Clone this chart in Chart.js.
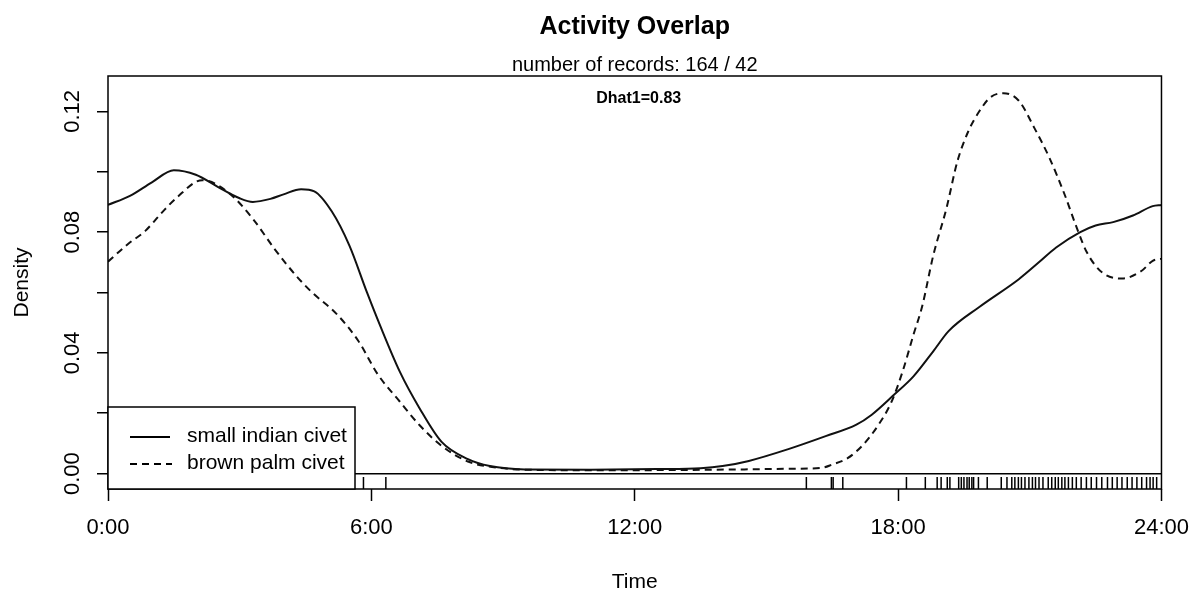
<!DOCTYPE html>
<html>
<head>
<meta charset="utf-8">
<script src="https://cdn.jsdelivr.net/npm/chart.js@4.4.1/dist/chart.umd.min.js"></script>
<style>
  html, body { margin: 0; padding: 0; background: #fff; }
</style>
</head>
<body>
<canvas id="overlap-chart" width="1203" height="592"></canvas>
<script>
var FONT = '"Liberation Sans", Arial, sans-serif';

// kernel density, small indian civet (solid)
var civetHours   = [0, 0.5, 1.0, 1.5, 2.0, 2.5, 3.0, 3.3, 3.7, 4.0, 4.4, 4.7, 5.1, 5.5, 5.9, 6.2, 6.65, 7.1, 7.6, 8.2, 8.7, 9.5, 11, 12.5, 13.5, 14.0, 14.6, 15.5, 16.35, 17.05, 17.4, 17.9, 18.35, 18.8, 19.15, 19.85, 20.75, 21.2, 21.6, 22.15, 22.5, 22.9, 23.35, 23.8, 24];
var civetDensity = [0.0890, 0.0920, 0.0965, 0.1005, 0.0990, 0.0950, 0.0912, 0.0900, 0.0910, 0.0925, 0.0942, 0.0935, 0.0868, 0.0755, 0.0600, 0.0490, 0.0337, 0.0216, 0.0105, 0.0048, 0.0025, 0.0014, 0.0013, 0.0015, 0.0018, 0.0025, 0.0042, 0.0081, 0.0124, 0.0162, 0.0195, 0.0260, 0.0322, 0.0405, 0.0472, 0.0552, 0.0644, 0.0699, 0.0749, 0.0800, 0.0822, 0.0833, 0.0855, 0.0886, 0.0890];

// kernel density, brown palm civet (dashed)
var palmHours   = [0, 0.45, 0.85, 1.2, 1.55, 2.15, 2.75, 3.3, 3.8, 4.3, 4.65, 5.2, 5.7, 6.15, 6.65, 7.1, 7.6, 8.2, 8.75, 9.5, 11, 13, 14.5, 15.5, 16.25, 16.5, 16.85, 17.2, 17.55, 17.85, 18.1, 18.35, 18.55, 18.8, 19.1, 19.35, 19.6, 19.85, 20.1, 20.4, 20.75, 21.1, 21.45, 21.8, 22.05, 22.3, 22.65, 23.1, 23.55, 23.8, 24];
var palmDensity = [0.0702, 0.0760, 0.0804, 0.0860, 0.0912, 0.0972, 0.0930, 0.0844, 0.0743, 0.0653, 0.0600, 0.0530, 0.0440, 0.0328, 0.0238, 0.0160, 0.0092, 0.0040, 0.0022, 0.0013, 0.0011, 0.0012, 0.0014, 0.0016, 0.0019, 0.0030, 0.0051, 0.0095, 0.0161, 0.0238, 0.0337, 0.0460, 0.0555, 0.0722, 0.0878, 0.1034, 0.1134, 0.1200, 0.1246, 0.1260, 0.1235, 0.1146, 0.1045, 0.0922, 0.0822, 0.0733, 0.0666, 0.0646, 0.0672, 0.0705, 0.0712];

// record times shown in the rug (hours)
var rugHours = [5.55, 5.58, 5.82, 6.33, 15.91, 16.48, 16.52, 16.74, 18.19, 18.62, 18.89, 18.98, 19.12, 19.18, 19.38, 19.44, 19.50, 19.57, 19.62, 19.68, 19.72, 19.83, 20.03, 20.35, 20.48, 20.59, 20.66, 20.74, 20.81, 20.89, 20.98, 21.06, 21.13, 21.21, 21.30, 21.42, 21.50, 21.58, 21.65, 21.73, 21.80, 21.88, 21.97, 22.06, 22.17, 22.29, 22.40, 22.52, 22.64, 22.77, 22.88, 22.99, 23.10, 23.22, 23.33, 23.44, 23.55, 23.66, 23.74, 23.81, 23.89];

var seriesNames = ['small indian civet', 'brown palm civet'];
var xTicks = [0, 6, 12, 18, 24];
var xTickLabels = ['0:00', '6:00', '12:00', '18:00', '24:00'];
var yTicks = [0, 0.02, 0.04, 0.06, 0.08, 0.10, 0.12];
var yLabelValues = [0, 0.04, 0.08, 0.12];
var yLabels = ['0.00', '0.04', '0.08', '0.12'];
var dhatText = 'Dhat1=0.83';

function pts(xs, ys) {
    return xs.map(function (x, i) { return { x: x, y: ys[i] }; });
}

// R style extras: box, rotated y labels, Dhat text, legend
var rPlot = {
    id: 'rPlot',
    afterDraw: function (chart) {
        var ctx = chart.ctx, ca = chart.chartArea, ys = chart.scales.y;
        ctx.save();
        ctx.strokeStyle = '#000';
        ctx.lineWidth = 1.5;
        ctx.setLineDash([]);
        ctx.strokeRect(ca.left, ca.top, ca.right - ca.left, ca.bottom - ca.top);

        ctx.fillStyle = '#000';
        ctx.font = '22px ' + FONT;
        ctx.textAlign = 'center';
        ctx.textBaseline = 'middle';
        yLabelValues.forEach(function (v, i) {
            ctx.save();
            ctx.translate(73, ys.getPixelForValue(v));
            ctx.rotate(-Math.PI / 2);
            ctx.fillText(yLabels[i], 0, 0);
            ctx.restore();
        });

        ctx.font = 'bold 16px ' + FONT;
        ctx.fillText(dhatText, (ca.left + ca.right) / 2 + 4, ca.top + 23);

        // legend, bottom left
        var lx = ca.left, ly = ca.bottom - 82, lw = 355 - ca.left, lh = 82;
        ctx.fillStyle = '#fff';
        ctx.fillRect(lx, ly, lw, lh);
        ctx.strokeRect(lx, ly, lw, lh);
        ctx.lineWidth = 2;
        ctx.beginPath();
        ctx.moveTo(lx + 22, ly + 30); ctx.lineTo(lx + 62, ly + 30);
        ctx.stroke();
        ctx.setLineDash([7, 5]);
        ctx.beginPath();
        ctx.moveTo(lx + 22, ly + 57); ctx.lineTo(lx + 64, ly + 57);
        ctx.stroke();
        ctx.setLineDash([]);
        ctx.fillStyle = '#000';
        ctx.font = '21px ' + FONT;
        ctx.textAlign = 'left';
        ctx.fillText(seriesNames[0], lx + 79, ly + 29);
        ctx.fillText(seriesNames[1], lx + 79, ly + 56);
        ctx.restore();
    }
};

var ctx = document.getElementById('overlap-chart');

var myChart = new Chart(ctx, {
    type: 'scatter',
    data: {
        datasets: [
            {
                label: seriesNames[0],
                data: pts(civetHours, civetDensity),
                showLine: true,
                borderColor: '#111',
                borderWidth: 2,
                pointRadius: 0,
                cubicInterpolationMode: 'monotone',
                fill: false
            }, {
                label: seriesNames[1],
                data: pts(palmHours, palmDensity),
                showLine: true,
                borderColor: '#111',
                borderWidth: 2,
                borderDash: [7, 5],
                pointRadius: 0,
                cubicInterpolationMode: 'monotone',
                fill: false
            }, {
                label: 'records',
                data: rugHours.map(function (h) { return { x: h, y: -0.0031 }; }),
                pointStyle: 'line',
                rotation: 90,
                radius: 6,
                borderColor: '#000',
                borderWidth: 1.5
            }
        ]
    },
    options: {
        responsive: false,
        animation: false,
        devicePixelRatio: 1,
        layout: { padding: { left: 0, right: 35, top: 0, bottom: 0 } },
        plugins: {
            legend: { display: false },
            tooltip: { enabled: false },
            title: {
                display: true,
                text: 'Activity Overlap',
                color: '#000',
                fullSize: false,
                font: { family: FONT, size: 25, weight: 'bold', lineHeight: 1.2 },
                padding: { top: 12, bottom: 13 }
            },
            subtitle: {
                display: true,
                text: 'number of records: 164 / 42',
                color: '#000',
                fullSize: false,
                font: { family: FONT, size: 20, lineHeight: 1.0 },
                padding: { top: 0, bottom: 1 }
            }
        },
        scales: {
            x: {
                type: 'linear',
                min: 0,
                max: 24,
                afterBuildTicks: function (scale) {
                    scale.ticks = xTicks.map(function (v) { return { value: v }; });
                },
                afterFit: function (scale) { scale.height = 103; },
                ticks: {
                    autoSkip: false,
                    maxRotation: 0,
                    padding: 14,
                    color: '#000',
                    font: { family: FONT, size: 22, lineHeight: 1.2 },
                    callback: function (v) { return xTickLabels[xTicks.indexOf(v)]; }
                },
                grid: { drawOnChartArea: false, drawTicks: true, tickLength: 12, tickColor: '#000', tickWidth: 1.5 },
                border: { display: false },
                title: {
                    display: true,
                    text: 'Time',
                    color: '#000',
                    font: { family: FONT, size: 21, lineHeight: 1.0 },
                    padding: { top: 0, bottom: -1 }
                }
            },
            y: {
                type: 'linear',
                min: -0.0051,
                max: 0.1317,
                afterBuildTicks: function (scale) {
                    scale.ticks = yTicks.map(function (v) { return { value: v }; });
                },
                afterFit: function (scale) { scale.width = 108; },
                ticks: { display: false },
                grid: {
                    drawOnChartArea: true,
                    drawTicks: true,
                    tickLength: 11,
                    tickColor: '#000',
                    tickWidth: 1.5,
                    lineWidth: 1.5,
                    color: function (c) {
                        return (c.tick && c.tick.value === 0) ? '#000' : 'rgba(0,0,0,0)';
                    }
                },
                border: { display: false },
                title: {
                    display: true,
                    text: 'Density',
                    color: '#000',
                    font: { family: FONT, size: 21, lineHeight: 1.0 },
                    padding: { top: 12, bottom: 0 }
                }
            }
        }
    },
    plugins: [rPlot]
});
</script>
</body>
</html>
